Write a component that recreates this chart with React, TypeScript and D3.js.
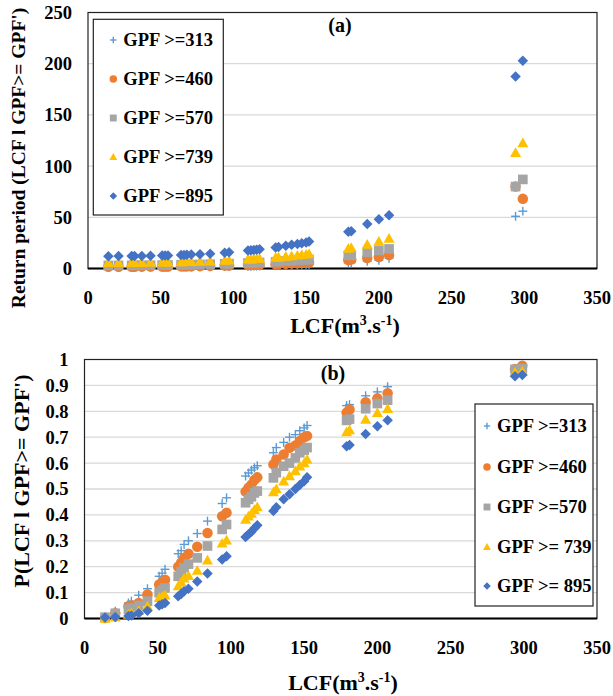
import React from 'react';
import * as d3 from 'd3';

// LCF (m3/s) of each event
const LCF = [14, 21, 30, 32, 37, 43, 51, 53, 55, 64, 66, 68, 71, 77, 84, 94, 97, 110, 112, 114, 116, 118, 129, 131, 136, 140, 144, 147, 150, 152, 179, 181, 192, 200, 207, 294, 299];

// (a) Return period
const RP313 = [1.0, 1.03, 1.06, 1.07, 1.1, 1.13, 1.19, 1.21, 1.23, 1.33, 1.36, 1.4, 1.43, 1.49, 1.6, 1.8, 1.87, 2.22, 2.28, 2.34, 2.4, 2.44, 2.78, 2.94, 3.13, 3.33, 3.45, 3.64, 3.79, 3.92, 5.6, 5.75, 7.1, 8.0, 10.0, 51, 56];
const RP460 = [1.7, 1.73, 1.78, 1.79, 1.81, 1.87, 1.96, 1.98, 2.0, 2.13, 2.17, 2.22, 2.27, 2.35, 2.54, 2.81, 2.87, 3.33, 3.43, 3.52, 3.66, 3.74, 4.2, 4.4, 4.63, 4.99, 5.12, 5.4, 5.67, 5.76, 8.3, 8.8, 10.3, 11.3, 13.1, 80, 68];
const RP570 = [3.0, 3.06, 3.1, 3.13, 3.16, 3.2, 3.33, 3.37, 3.4, 3.58, 3.66, 3.73, 3.8, 3.92, 4.17, 4.57, 4.7, 5.4, 5.55, 5.66, 5.83, 5.9, 6.56, 6.86, 7.28, 7.5, 7.9, 8.3, 8.6, 8.8, 12.8, 13.0, 15.8, 17.6, 19.1, 80, 87];
const RP739 = [5.5, 5.53, 5.58, 5.6, 5.67, 5.77, 5.98, 6.0, 6.04, 6.29, 6.4, 6.5, 6.6, 6.75, 7.1, 7.75, 7.9, 8.9, 9.1, 9.25, 9.5, 9.65, 10.7, 11.0, 11.7, 12.2, 12.8, 13.3, 13.75, 14.25, 19.6, 20.2, 23.5, 26.3, 29.2, 113, 122.5];
const RP895 = [12.05, 12.1, 12.1, 12.15, 12.2, 12.4, 12.6, 12.7, 12.8, 13.1, 13.3, 13.4, 13.6, 14.0, 14.5, 15.5, 15.8, 17.5, 17.8, 18.0, 18.4, 18.8, 20.5, 21.1, 22.2, 23.1, 24.0, 24.7, 25.5, 26.4, 35.8, 36.4, 43.5, 48, 52, 187.5, 203];

// (b) Conditional probability
const P313 = [0.005, 0.028, 0.060, 0.067, 0.090, 0.115, 0.163, 0.175, 0.190, 0.250, 0.262, 0.286, 0.300, 0.328, 0.376, 0.444, 0.466, 0.550, 0.562, 0.573, 0.582, 0.590, 0.640, 0.660, 0.680, 0.700, 0.710, 0.725, 0.736, 0.745, 0.822, 0.826, 0.860, 0.875, 0.895, 0.964, 0.966];
const P460 = [0.002, 0.020, 0.047, 0.050, 0.060, 0.093, 0.131, 0.140, 0.150, 0.200, 0.215, 0.234, 0.250, 0.277, 0.330, 0.395, 0.408, 0.490, 0.505, 0.517, 0.535, 0.545, 0.595, 0.614, 0.633, 0.659, 0.668, 0.685, 0.700, 0.705, 0.795, 0.807, 0.835, 0.850, 0.870, 0.963, 0.976];
const P570 = [0.005, 0.020, 0.035, 0.040, 0.050, 0.067, 0.100, 0.110, 0.118, 0.163, 0.180, 0.196, 0.210, 0.234, 0.280, 0.344, 0.363, 0.447, 0.460, 0.470, 0.485, 0.492, 0.543, 0.563, 0.588, 0.600, 0.620, 0.640, 0.650, 0.660, 0.765, 0.770, 0.810, 0.830, 0.843, 0.962, 0.965];
const P739 = [0.000, 0.005, 0.015, 0.020, 0.030, 0.047, 0.080, 0.085, 0.090, 0.125, 0.140, 0.155, 0.165, 0.185, 0.225, 0.290, 0.302, 0.382, 0.395, 0.405, 0.420, 0.430, 0.488, 0.500, 0.530, 0.550, 0.569, 0.588, 0.600, 0.614, 0.720, 0.728, 0.768, 0.794, 0.810, 0.950, 0.955];
const P895 = [0.004, 0.006, 0.010, 0.012, 0.020, 0.030, 0.050, 0.055, 0.060, 0.086, 0.095, 0.105, 0.115, 0.143, 0.174, 0.228, 0.240, 0.315, 0.325, 0.335, 0.348, 0.360, 0.415, 0.430, 0.460, 0.480, 0.500, 0.515, 0.530, 0.545, 0.665, 0.670, 0.712, 0.742, 0.765, 0.935, 0.940];

const NAMES_A = ['GPF >=313', 'GPF >=460', 'GPF >=570', 'GPF >=739', 'GPF >=895'];
const NAMES_B = ['GPF >=313', 'GPF >=460', 'GPF >=570', 'GPF >= 739', 'GPF >= 895'];
const MARKERS = ['plus', 'circle', 'square', 'triangle', 'diamond'];
const COLORS = ['#5B9BD5', '#ED7D31', '#A5A5A5', '#FFC000', '#4472C4'];

const X_TICKS = [0, 50, 100, 150, 200, 250, 300, 350];
const YA_TICKS = [0, 50, 100, 150, 200, 250];
const YB_TICKS = [0, 0.1, 0.2, 0.3, 0.4, 0.5, 0.6, 0.7, 0.8, 0.9, 1];

const FONT = '"Liberation Serif", "Times New Roman", serif';

function Marker({ type, x, y, s, color }: { type: string; x: number; y: number; s: number; color: string }) {
  const h = s / 2;
  if (type === 'plus') {
    return (
      <g stroke={color} strokeWidth={1.4}>
        <line x1={x - h * 0.85} x2={x + h * 0.85} y1={y} y2={y} />
        <line x1={x} x2={x} y1={y - h * 0.85} y2={y + h * 0.85} />
      </g>
    );
  }
  if (type === 'circle') return <circle cx={x} cy={y} r={h} fill={color} />;
  if (type === 'square') return <rect x={x - h * 0.92} y={y - h * 0.92} width={s * 0.92} height={s * 0.92} fill={color} />;
  if (type === 'triangle')
    return <path d={`M${x},${y - h * 1.05}L${x + h * 1.05},${y + h * 0.8}L${x - h * 1.05},${y + h * 0.8}Z`} fill={color} />;
  return <path d={`M${x},${y - h}L${x + h},${y}L${x},${y + h}L${x - h},${y}Z`} fill={color} />;
}

type PanelProps = {
  xr: [number, number];
  yr: [number, number];
  yDomain: [number, number];
  yTicks: number[];
  series: number[][];
  names: string[];
  fmt: (v: number) => string;
  legend: { x: number; y: number; w: number; h: number; rows: number[]; mx: number; tx: number; ms: number };
  label: string;
  labelPos: [number, number];
  yTitle: string;
  yTitlePos: [number, number];
  yTitleSize: number;
  xTitlePos: [number, number];
};

function Panel(p: PanelProps) {
  const x = d3.scaleLinear().domain([0, 350]).range(p.xr);
  const y = d3.scaleLinear().domain(p.yDomain).range(p.yr);
  const [x0, x1] = p.xr;
  const [yb, yt] = p.yr;
  return (
    <g fontFamily={FONT} fontWeight="bold">
      {p.yTicks.slice(1, -1).map((t) => (
        <line key={'g' + t} x1={x0} x2={x1} y1={y(t)} y2={y(t)} stroke="#D9D9D9" strokeWidth={1.3} />
      ))}
      <rect x={x0} y={yt} width={x1 - x0} height={yb - yt} fill="none" stroke="#222" strokeWidth={1.2} />
      <line x1={x0} x2={x1} y1={yb} y2={yb} stroke="#000" strokeWidth={2.2} />
      {p.yTicks.map((t) => (
        <text key={'y' + t} x={x0 - 16} y={y(t)} dy="0.35em" textAnchor="end" fontSize={18.5}>
          {p.fmt(t)}
        </text>
      ))}
      {X_TICKS.map((t) => (
        <text key={'x' + t} x={x(t)} y={yb + 29.5} dy="0.35em" textAnchor="middle" fontSize={18.5}>
          {t}
        </text>
      ))}
      {p.series.map((vals, si) => (
        <g key={'s' + si}>
          {vals.map((v, i) => (
            <Marker key={i} type={MARKERS[si]} x={x(LCF[i])} y={y(v)} s={10.5} color={COLORS[si]} />
          ))}
        </g>
      ))}
      <text x={p.labelPos[0]} y={p.labelPos[1]} dy="0.35em" textAnchor="middle" fontSize={20}>
        {p.label}
      </text>
      <rect x={p.legend.x} y={p.legend.y} width={p.legend.w} height={p.legend.h} fill="#fff" stroke="#222" strokeWidth={1.2} />
      {p.names.map((n, i) => (
        <g key={'l' + i}>
          <Marker type={MARKERS[i]} x={p.legend.mx} y={p.legend.rows[i]} s={p.legend.ms} color={COLORS[i]} />
          <text x={p.legend.tx} y={p.legend.rows[i]} dy="0.35em" fontSize={18.5}>
            {n}
          </text>
        </g>
      ))}
      <text
        transform={`translate(${p.yTitlePos[0]},${p.yTitlePos[1]}) rotate(-90)`}
        dy="0.35em"
        textAnchor="middle"
        fontSize={p.yTitleSize}
      >
        {p.yTitle}
      </text>
      <text x={p.xTitlePos[0]} y={p.xTitlePos[1] + 7} textAnchor="middle" fontSize={22}>
        LCF(m
        <tspan fontSize={14} dy={-8}>3</tspan>
        <tspan dy={8}>.s</tspan>
        <tspan fontSize={14} dy={-8}>-1</tspan>
        <tspan dy={8}>)</tspan>
      </text>
    </g>
  );
}

export default function App() {
  const fmtA = (v: number) => String(v);
  const fmtB = (v: number) => String(+v.toFixed(1));
  return (
    <svg width={613} height={696} style={{ position: 'absolute', left: 0, top: 0, background: '#fff' }}>
      <rect width={613} height={696} fill="#fff" />
      <Panel
        xr={[88, 597]}
        yr={[268.5, 12.5]}
        yDomain={[0, 250]}
        yTicks={YA_TICKS}
        series={[RP313, RP460, RP570, RP739, RP895]}
        names={NAMES_A}
        fmt={fmtA}
        legend={{ x: 93.3, y: 19.3, w: 130, h: 195.7, rows: [40, 79, 118, 157, 196], mx: 113.3, tx: 123.3, ms: 7.5 }}
        label="(a)"
        labelPos={[340, 25]}
        yTitle="Return period (LCF l GPF>= GPF')"
        yTitlePos={[18, 158]}
        yTitleSize={19.5}
        xTitlePos={[345, 326]}
      />
      <Panel
        xr={[84.5, 597]}
        yr={[618.5, 359.5]}
        yDomain={[0, 1]}
        yTicks={YB_TICKS}
        series={[P313, P460, P570, P739, P895]}
        names={NAMES_B}
        fmt={fmtB}
        legend={{ x: 475, y: 404, w: 118, h: 202, rows: [426, 467, 507, 547, 586], mx: 487, tx: 497, ms: 7.5 }}
        label="(b)"
        labelPos={[333, 373]}
        yTitle="P(LCF l GPF>= GPF')"
        yTitlePos={[21, 481]}
        yTitleSize={22}
        xTitlePos={[343, 683]}
      />
    </svg>
  );
}
